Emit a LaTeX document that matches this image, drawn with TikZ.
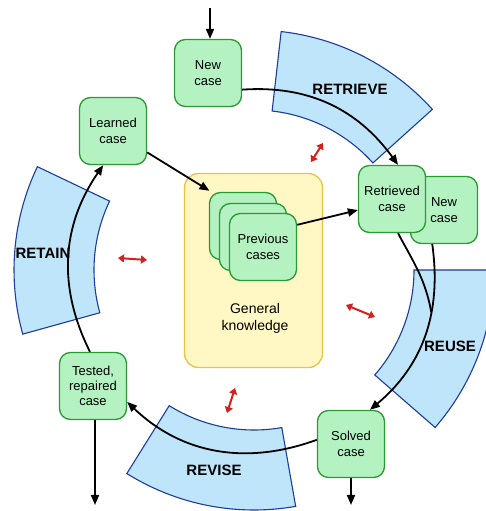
\documentclass[tikz,border=0pt]{standalone}
\usepackage{fontspec}
\setmainfont{Liberation Sans}
\usetikzlibrary{arrows.meta}
\definecolor{bandfill}{HTML}{BFE5FA}
\definecolor{bandline}{HTML}{1E3C9C}
\definecolor{boxfill}{HTML}{B4F2C2}
\definecolor{boxline}{HTML}{2C9A34}
\definecolor{gkfill}{HTML}{FFF8C4}
\definecolor{gkline}{HTML}{EDC04A}
\definecolor{redarr}{HTML}{D61F1F}
\begin{document}
\begin{tikzpicture}[x=1pt,y=1pt,
  casebox/.style={draw=boxline, fill=boxfill, line width=1.3pt, rounded corners=11pt,
    minimum width=67pt, minimum height=67pt, align=center, inner sep=2pt,
    font=\fontsize{13}{16}\selectfont},
  gkbox/.style={draw=gkline, fill=gkfill, line width=1.3pt, rounded corners=14pt,
    minimum width=138pt, minimum height=194pt},
  gklabel/.style={align=center, font=\fontsize{14}{17}\selectfont},
  band/.style={draw=bandline, fill=bandfill, line width=1.1pt},
  bandlabel/.style={font=\bfseries\fontsize{15}{18}\selectfont},
  flow/.style={line width=1.8pt, -{Triangle[length=10pt,width=8pt]}},
  plainflow/.style={line width=1.8pt},
  dbl/.style={redarr, line width=2pt, {Triangle[length=6pt,width=8pt]}-{Triangle[length=6pt,width=8pt]}}
]
\useasboundingbox (0,0) rectangle (486,511);
\coordinate (C) at (254,241);
% bands
\draw[band] ([shift={(42:240)}]C) arc[start angle=42,end angle=83.5,radius=240]
  -- ([shift={(83.5:160)}]C) arc[start angle=83.5,end angle=42,radius=160] -- cycle;
\draw[band] ([shift={(-41:240)}]C) arc[start angle=-41,end angle=0,radius=240]
  -- ([shift={(0:160)}]C) arc[start angle=0,end angle=-41,radius=160] -- cycle;
\draw[band] ([shift={(-122:240)}]C) arc[start angle=-122,end angle=-80,radius=240]
  -- ([shift={(-80:160)}]C) arc[start angle=-80,end angle=-122,radius=160] -- cycle;
\draw[band] ([shift={(154.5:240)}]C) arc[start angle=154.5,end angle=195.5,radius=240]
  -- ([shift={(195.5:160)}]C) arc[start angle=195.5,end angle=154.5,radius=160] -- cycle;
\node[bandlabel] (lretrieve) at (350,422) {RETRIEVE};
\node[bandlabel] (lreuse) at (450,165) {REUSE};
\node[bandlabel] (lrevise) at (214,41) {REVISE};
\node[bandlabel] (lretain) at (43,258) {RETAIN};
% general knowledge
\node[gkbox] (gk) at (253.5,240.5) {};
\node[gklabel] (gktext) at (255,193) {General\\knowledge};
% boxes
\node[casebox] (prev3) at (243,285) {};
\node[casebox] (prev2) at (253,274) {};
\node[casebox] (prev1) at (263,264) {Previous\\cases};
\node[casebox] (newc) at (208,438) {New\\case};
\node[casebox] (learned) at (113,380) {Learned\\case};
\node[casebox] (new2) at (444,301) {New\\case};
\node[casebox] (ret) at (392,312) {Retrieved\\case};
\node[casebox] (solved) at (351,67) {Solved\\case};
\node[casebox, font=\fontsize{13}{15}\selectfont] (tested) at (93,125) {Tested,\\repaired\\case};
% connectors
\coordinate (inTop) at (210,503);
\draw[flow] (inTop) -- (inTop |- newc.north);
\draw[flow] (newc.-26) to[out=4,in=126] (ret.80);
\draw[flow] (new2.-109) to[out=-82,in=40] coordinate[pos=0.36] (merge) (solved.61);
\draw[plainflow] (ret.-80) to[out=-62,in=100] (merge);
\draw[flow] (solved.173) to[out=-160,in=-43.7] (tested.-25);
\draw[flow] (tested.95) to[out=116.6,in=-124.6] (learned.-106);
\draw[flow, shorten >=2pt] (learned.-32) -- (prev3.133.6);
\draw[flow] (prev1.33) -- (ret.198);
\coordinate (outT) at (95,6);
\draw[flow] (tested.south -| outT) -- (outT);
\coordinate (outS) at (351,6);
\draw[flow] (solved.south) -- (outS);
% red double arrows
\coordinate (r1a) at (311,349); \coordinate (r1b) at (323,368);
\draw[dbl] (r1a) -- (r1b);
\coordinate (r2a) at (118,253); \coordinate (r2b) at (147,251);
\draw[dbl] (r2a) -- (r2b);
\coordinate (r3a) at (346,206); \coordinate (r3b) at (375,194);
\draw[dbl] (r3a) -- (r3b);
\coordinate (r4a) at (235,123); \coordinate (r4b) at (227,98);
\draw[dbl] (r4a) -- (r4b);
\end{tikzpicture}
\end{document}
